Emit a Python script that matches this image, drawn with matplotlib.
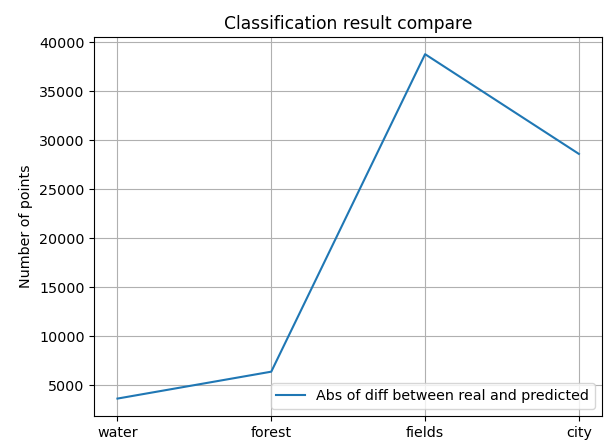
import matplotlib
matplotlib.use("Agg")
import matplotlib.pyplot as plt

# Classification result data
classes = ["water", "forest", "fields", "city"]
abs_diff = [3665, 6410, 38800, 28625]

plt.rcParams["font.size"] = 10.25

fig = plt.figure(figsize=(6.05, 4.4), dpi=100)
ax = fig.add_subplot(111)
fig.subplots_adjust(left=0.156, right=0.995, bottom=0.055, top=0.916)

ax.plot(classes, abs_diff, label="Abs of diff between real and predicted")
ax.set_title("Classification result compare")
ax.set_ylabel("Number of points")
ax.grid(True)
ax.legend(loc="lower right")

fig.savefig("out.png")
